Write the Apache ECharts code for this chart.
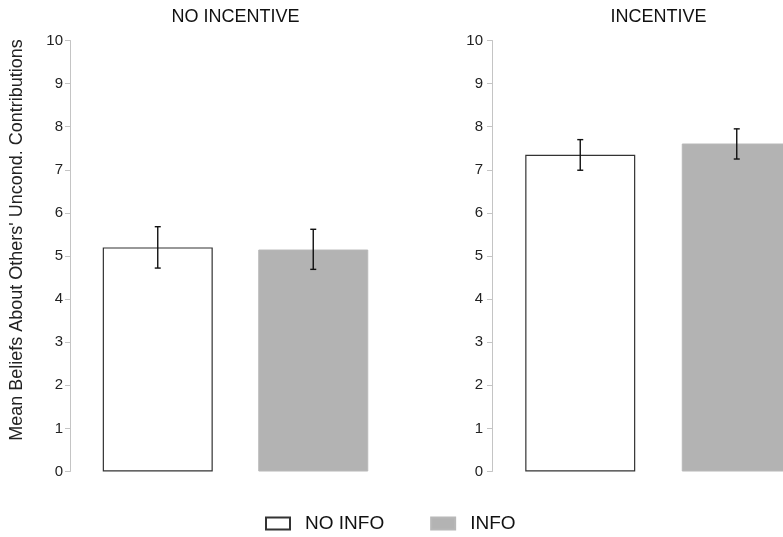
<!DOCTYPE html>
<html>
<head>
<meta charset="utf-8">
<script src="https://cdn.jsdelivr.net/npm/echarts@6/dist/echarts.min.js"></script>
<style>html,body{margin:0;padding:0;background:#fff}#c{width:783px;height:537px}</style>
</head>
<body>
<div id="c"></div>
<script>
const panels = ['NO INCENTIVE', 'INCENTIVE'];
const groups = ['NO INFO', 'INFO'];
const noInfoMeans = [5.20, 7.35];
const infoMeans = [5.15, 7.61];
const noInfoLow = [4.72, 6.99];
const noInfoHigh = [5.68, 7.70];
const infoLow = [4.69, 7.25];
const infoHigh = [5.62, 7.95];
const yMin = 0, yMax = 10, yStep = 1;
const yName = "Mean Beliefs About Others' Uncond. Contributions";

const FONT = 'Liberation Sans, Arial, Helvetica, sans-serif';
const grids = [
  {left: 80, top: 40.5, width: 311, height: 431, outerBoundsMode: 'none', containLabel: false},
  {left: 502, top: 40.5, width: 313, height: 431, outerBoundsMode: 'none', containLabel: false}
];

function errRender(params, api) {
  const top = api.coord([api.value(0), api.value(2)]);
  const bot = api.coord([api.value(0), api.value(1)]);
  const x = top[0], cw = 3;
  const st = {stroke: '#111', lineWidth: 1.4};
  return {type: 'group', children: [
    {type: 'line', shape: {x1: x, y1: top[1], x2: x, y2: bot[1]}, style: st},
    {type: 'line', shape: {x1: x - cw, y1: top[1], x2: x + cw, y2: top[1]}, style: st},
    {type: 'line', shape: {x1: x - cw, y1: bot[1], x2: x + cw, y2: bot[1]}, style: st}
  ]};
}

const xAxes = [], yAxes = [], series = [], titles = [];
panels.forEach((p, i) => {
  const g = grids[i];
  titles.push({text: p, left: g.left + g.width / 2, top: 8, textAlign: 'center', padding: 0,
    textStyle: {fontFamily: FONT, fontSize: 18, fontWeight: 'normal', color: '#111'}});
  xAxes.push({type: 'category', gridIndex: i, data: groups, show: false, boundaryGap: true});
  yAxes.push({type: 'value', gridIndex: i, min: yMin, max: yMax, interval: yStep, offset: 10,
    splitLine: {show: false},
    axisLine: {show: true, lineStyle: {color: '#c4c4c4', width: 1}},
    axisTick: {show: true, length: 5, lineStyle: {color: '#c4c4c4'}},
    axisLabel: {margin: i === 0 ? 7 : 9, fontFamily: FONT, fontSize: 15, color: '#222'},
    name: i === 0 ? yName : '', nameLocation: 'middle', nameGap: 44,
    nameTextStyle: {fontFamily: FONT, fontSize: 18, color: '#222', padding: [0, 0, 0, 32]}
  });
  series.push({name: groups[0], type: 'bar', xAxisIndex: i, yAxisIndex: i, barWidth: 110, barGap: '-100%',
    data: [noInfoMeans[i], '-'],
    itemStyle: {color: '#ffffff', borderColor: '#333', borderWidth: 1.2}, silent: true});
  series.push({name: groups[1], type: 'bar', xAxisIndex: i, yAxisIndex: i, barWidth: 110, barGap: '-100%',
    data: ['-', infoMeans[i]],
    itemStyle: {color: '#b3b3b3', borderColor: '#b8b8b8', borderWidth: 1}, silent: true});
  series.push({type: 'custom', xAxisIndex: i, yAxisIndex: i, renderItem: errRender, z: 10, silent: true,
    data: [[0, noInfoLow[i], noInfoHigh[i]], [1, infoLow[i], infoHigh[i]]]});
});

const chart = echarts.init(document.getElementById('c'), null, {renderer: 'canvas'});
chart.setOption({
  animation: false,
  backgroundColor: '#fff',
  title: titles,
  grid: grids,
  xAxis: xAxes,
  yAxis: yAxes,
  legend: {data: groups, left: 265, top: 514, padding: 0, itemWidth: 24, itemHeight: 12, itemGap: 46,
    icon: 'rect',
    textStyle: {fontFamily: FONT, fontSize: 19, color: '#111', padding: [0, 0, 0, 10]}},
  series: series
});
</script>
</body>
</html>
